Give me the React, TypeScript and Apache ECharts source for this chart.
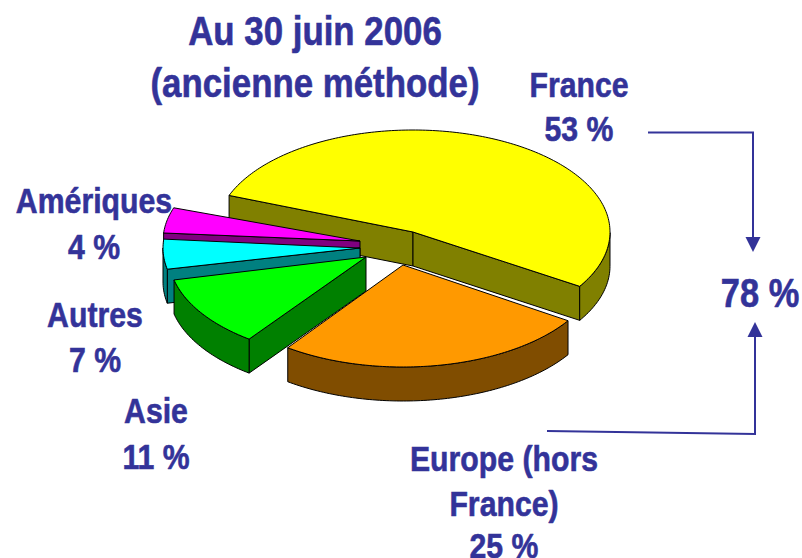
import React, { useEffect, useRef } from "react";
import * as echarts from "echarts";

const sliceNames = ["France", "Europe (hors France)", "Asie", "Autres", "Amériques"];
const sliceShares = [53, 25, 11, 7, 4];
const topColors = ["#ffff00", "#ff9900", "#00ff00", "#00ffff", "#ff00ff"];
const wallColors = ["#808000", "#804d00", "#008000", "#008080", "#800080"];

// Layout of the drawn pie (not data)
const apexes = [[413, 232], [403, 265], [366, 257], [360, 248], [360, 241]];
const paintOrder = [0, 1, 4, 3, 2];
const angleNudges = [[0, -0.4], [-1.3, -4], [-4.6, -5.6], [-6.6, 1.6], [2.1, 2]];
const startAngle = 159;
const radiusX = 197;
const radiusY = 102;
const depth = 34;

const titleLines = ["Au 30 juin 2006", "(ancienne méthode)"];
const INK = "#333399";
// text, centre x, baseline y, font size
const labelLines: [string, number, number, number][] = [
  ["France", 579, 97, 36],
  ["53 %", 579, 141, 36],
  ["Amériques", 94, 213, 36],
  ["4 %", 94, 259, 36],
  ["Autres", 95, 327, 36],
  ["7 %", 95, 372, 36],
  ["Asie", 156, 423, 36],
  ["11 %", 156, 469, 36],
  ["Europe (hors", 504, 471, 36],
  ["France)", 504, 516, 36],
  ["25 %", 504, 558, 36],
  ["78 %", 760, 307, 41],
];

const textEl = (text: string, x: number, baseline: number, size: number, squeeze: number) => ({
  type: "text",
  x,
  y: baseline - size * 0.35,
  scaleX: squeeze,
  z: 10,
  style: {
    text,
    fill: INK,
    stroke: INK,
    lineWidth: 0.6,
    font: `bold ${size}px "Liberation Sans", Arial, sans-serif`,
    align: "center",
    verticalAlign: "middle",
  },
});

const rimPoint = (apex: number[], deg: number, drop = 0) => {
  const r = (deg * Math.PI) / 180;
  return [apex[0] + radiusX * Math.cos(r), apex[1] - radiusY * Math.sin(r) + drop];
};

const renderSlice = (params: any, api: any) => {
  const i = params.dataIndex;
  const share = api.value(0);
  const total = sliceShares.reduce((a, b) => a + b, 0);
  const before = sliceShares.slice(0, i).reduce((a, b) => a + b, 0);
  const from = startAngle - (before / total) * 360 + angleNudges[i][0];
  const to = startAngle - ((before + share) / total) * 360 + angleNudges[i][1];
  const apex = apexes[i];
  const arc: number[] = [];
  const steps = Math.max(2, Math.ceil(from - to));
  for (let s = 0; s <= steps; s++) arc.push(from + ((to - from) * s) / steps);

  const base = paintOrder[i] * 10;
  const line = { stroke: "#000000", lineWidth: 1, lineJoin: "round" };
  const wall = (pts: number[][], z: number) => ({
    type: "polygon",
    z2: base + z,
    shape: { points: pts },
    style: { fill: wallColors[i], ...line },
  });
  const radial = (deg: number, z: number) => {
    const p = rimPoint(apex, deg);
    return wall([apex, p, [p[0], p[1] + depth], [apex[0], apex[1] + depth]], z);
  };
  const cosOf = (d: number) => Math.cos((d * Math.PI) / 180);
  // Outer wall: only the part of the rim that faces the viewer
  const isFront = (d: number) => Math.sin((d * Math.PI) / 180) < 0.001;
  const front = arc.filter(isFront);
  const children: any[] = [];
  // Radial faces: only those that turn towards the viewer
  if (cosOf(from) < 0) children.push(radial(from, 1));
  if (cosOf(to) > 0) children.push(radial(to, 1));
  if (front.length > 1) {
    const upper = front.map((d) => rimPoint(apex, d));
    const lower = front.map((d) => rimPoint(apex, d, depth)).reverse();
    children.push(wall([...upper, ...lower], 2));
  }
  children.push({
    type: "polygon",
    z2: base + 3,
    shape: { points: [apex, ...arc.map((d) => rimPoint(apex, d))] },
    style: { fill: topColors[i], ...line },
  });
  return { type: "group", children };
};

const arrow = (tipX: number, tipY: number, baseY: number) => ({
  type: "polygon",
  z: 9,
  shape: { points: [[tipX, tipY], [tipX - 7.5, baseY], [tipX + 7.5, baseY]] },
  style: { fill: INK },
});
const rule = (points: number[][]) => ({
  type: "polyline",
  z: 9,
  shape: { points },
  style: { stroke: INK, lineWidth: 2, fill: "none" },
});

export default function App() {
  const ref = useRef<HTMLDivElement>(null);
  useEffect(() => {
    const chart = echarts.init(ref.current!, undefined, { renderer: "svg" });
    chart.setOption({
      animation: false,
      backgroundColor: "#ffffff",
      series: [
        {
          type: "custom",
          coordinateSystem: "none",
          silent: true,
          clip: false,
          renderItem: renderSlice,
          data: sliceShares.map((v, i) => ({ name: sliceNames[i], value: [v] })),
        },
      ],
      graphic: [
        textEl(titleLines[0], 315, 45, 41, 0.85),
        textEl(titleLines[1], 315, 97, 41, 0.85),
        ...labelLines.map(([t, x, y, s]) => textEl(t, x, y, s, 0.84)),
        rule([[648, 132.5], [753, 132.5], [753, 240]]),
        arrow(753, 252, 237),
        rule([[547, 431], [755, 434], [755, 335]]),
        arrow(755, 322, 337),
      ],
    });
    return () => chart.dispose();
  }, []);
  return (
    <div
      ref={ref}
      style={{ position: "absolute", left: 0, top: 0, width: 802, height: 558 }}
    />
  );
}
